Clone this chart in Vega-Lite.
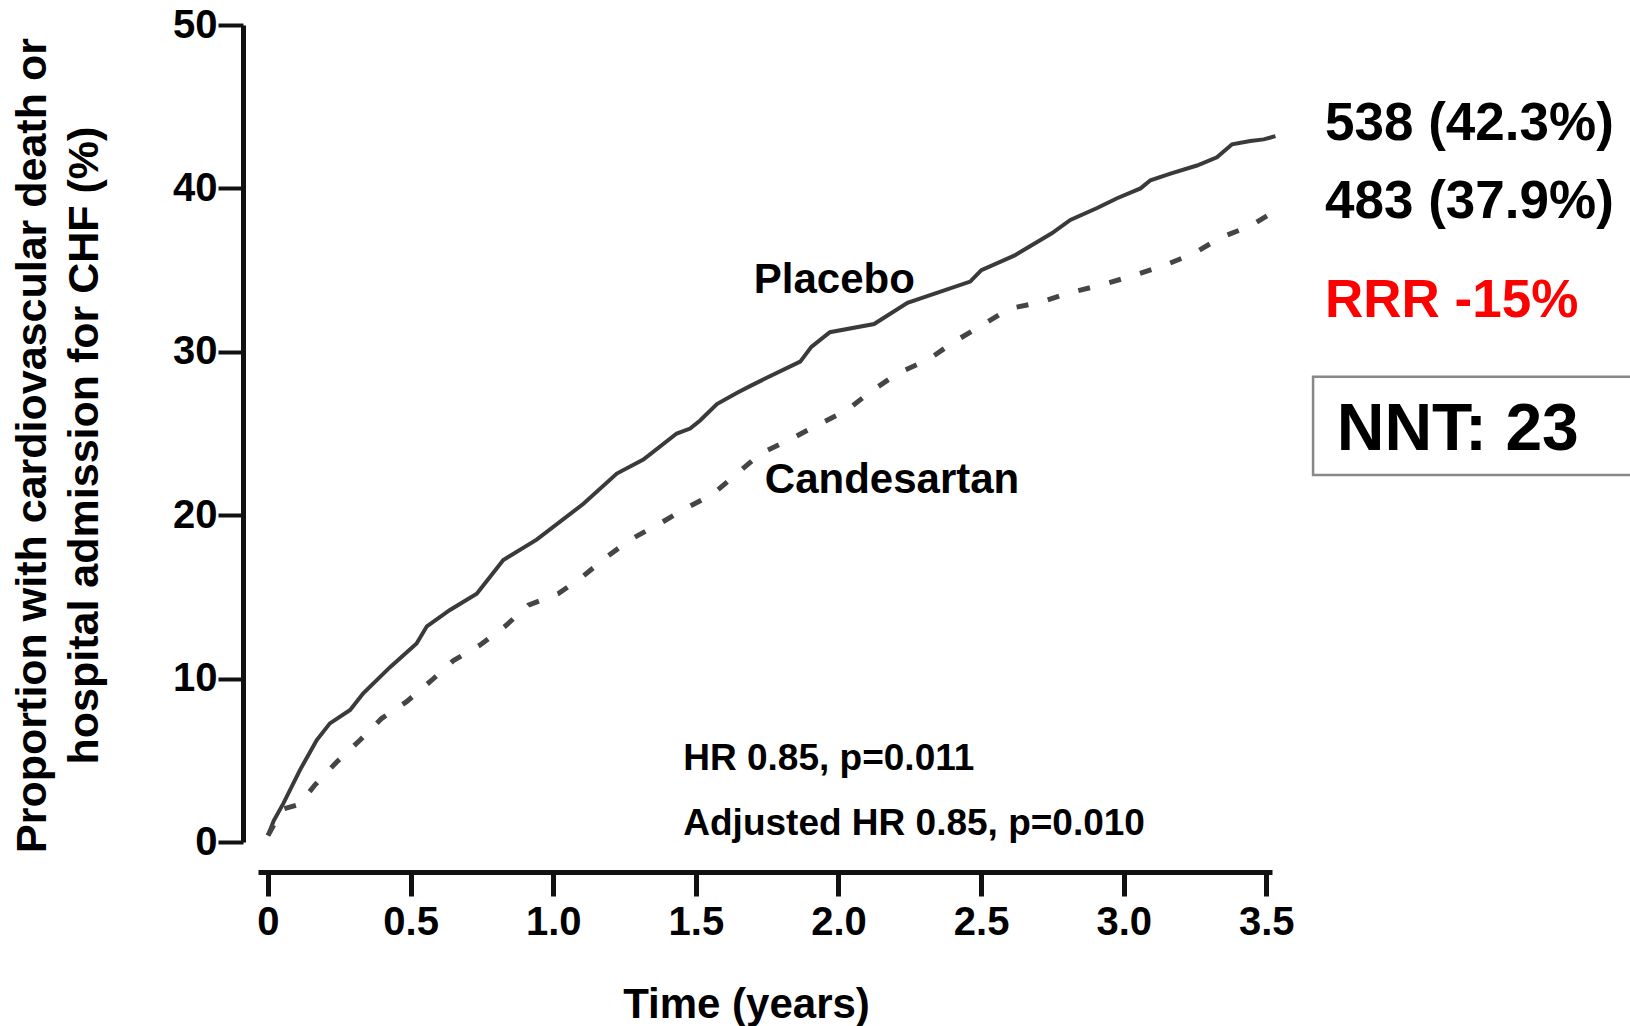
{
  "$schema": "https://vega.github.io/schema/vega-lite/v6.json",
  "width": 1014,
  "height": 817,
  "autosize": {"type": "none"},
  "padding": {"left": 258, "top": 25, "right": 358, "bottom": 184},
  "background": "white",
  "config": {"view": {"stroke": null}, "font": "Liberation Sans"},
  "datasets": {
    "curves": [
      {"arm": "Placebo", "t": 0, "v": 0.4},
      {"arm": "Placebo", "t": 0.02, "v": 1.3},
      {"arm": "Placebo", "t": 0.054, "v": 2.36},
      {"arm": "Placebo", "t": 0.112, "v": 4.4},
      {"arm": "Placebo", "t": 0.171, "v": 6.24},
      {"arm": "Placebo", "t": 0.217, "v": 7.26},
      {"arm": "Placebo", "t": 0.288, "v": 8.08},
      {"arm": "Placebo", "t": 0.334, "v": 9.1},
      {"arm": "Placebo", "t": 0.428, "v": 10.7},
      {"arm": "Placebo", "t": 0.521, "v": 12.15},
      {"arm": "Placebo", "t": 0.557, "v": 13.2},
      {"arm": "Placebo", "t": 0.638, "v": 14.2},
      {"arm": "Placebo", "t": 0.732, "v": 15.2},
      {"arm": "Placebo", "t": 0.825, "v": 17.26},
      {"arm": "Placebo", "t": 0.942, "v": 18.5},
      {"arm": "Placebo", "t": 1.106, "v": 20.7},
      {"arm": "Placebo", "t": 1.223, "v": 22.55},
      {"arm": "Placebo", "t": 1.316, "v": 23.4},
      {"arm": "Placebo", "t": 1.433, "v": 25.0},
      {"arm": "Placebo", "t": 1.48, "v": 25.3},
      {"arm": "Placebo", "t": 1.515, "v": 25.8},
      {"arm": "Placebo", "t": 1.574, "v": 26.8},
      {"arm": "Placebo", "t": 1.645, "v": 27.5},
      {"arm": "Placebo", "t": 1.69, "v": 27.9},
      {"arm": "Placebo", "t": 1.736, "v": 28.3},
      {"arm": "Placebo", "t": 1.866, "v": 29.4},
      {"arm": "Placebo", "t": 1.905, "v": 30.3},
      {"arm": "Placebo", "t": 1.97, "v": 31.2},
      {"arm": "Placebo", "t": 2.125, "v": 31.7},
      {"arm": "Placebo", "t": 2.242, "v": 33.0},
      {"arm": "Placebo", "t": 2.462, "v": 34.3},
      {"arm": "Placebo", "t": 2.501, "v": 35.0},
      {"arm": "Placebo", "t": 2.618, "v": 35.9},
      {"arm": "Placebo", "t": 2.748, "v": 37.25},
      {"arm": "Placebo", "t": 2.813, "v": 38.07},
      {"arm": "Placebo", "t": 2.907, "v": 38.8},
      {"arm": "Placebo", "t": 2.977, "v": 39.4},
      {"arm": "Placebo", "t": 3.059, "v": 40.0},
      {"arm": "Placebo", "t": 3.094, "v": 40.5},
      {"arm": "Placebo", "t": 3.164, "v": 40.9},
      {"arm": "Placebo", "t": 3.257, "v": 41.4},
      {"arm": "Placebo", "t": 3.327, "v": 41.9},
      {"arm": "Placebo", "t": 3.38, "v": 42.7},
      {"arm": "Placebo", "t": 3.444, "v": 42.9},
      {"arm": "Placebo", "t": 3.491, "v": 43.0},
      {"arm": "Placebo", "t": 3.532, "v": 43.2},
      {"arm": "Candesartan", "t": 0, "v": 0.4},
      {"arm": "Candesartan", "t": 0.05, "v": 2.0},
      {"arm": "Candesartan", "t": 0.11, "v": 2.3},
      {"arm": "Candesartan", "t": 0.165, "v": 3.5},
      {"arm": "Candesartan", "t": 0.241, "v": 4.9},
      {"arm": "Candesartan", "t": 0.323, "v": 6.24},
      {"arm": "Candesartan", "t": 0.399, "v": 7.57},
      {"arm": "Candesartan", "t": 0.486, "v": 8.59},
      {"arm": "Candesartan", "t": 0.574, "v": 9.9},
      {"arm": "Candesartan", "t": 0.65, "v": 11.1},
      {"arm": "Candesartan", "t": 0.744, "v": 12.06},
      {"arm": "Candesartan", "t": 0.831, "v": 13.2},
      {"arm": "Candesartan", "t": 0.913, "v": 14.5},
      {"arm": "Candesartan", "t": 1.018, "v": 15.2},
      {"arm": "Candesartan", "t": 1.1, "v": 16.2},
      {"arm": "Candesartan", "t": 1.188, "v": 17.46},
      {"arm": "Candesartan", "t": 1.27, "v": 18.5},
      {"arm": "Candesartan", "t": 1.375, "v": 19.5},
      {"arm": "Candesartan", "t": 1.463, "v": 20.4},
      {"arm": "Candesartan", "t": 1.56, "v": 21.3},
      {"arm": "Candesartan", "t": 1.645, "v": 22.55},
      {"arm": "Candesartan", "t": 1.729, "v": 23.8},
      {"arm": "Candesartan", "t": 1.827, "v": 24.6},
      {"arm": "Candesartan", "t": 1.924, "v": 25.5},
      {"arm": "Candesartan", "t": 2.028, "v": 26.4},
      {"arm": "Candesartan", "t": 2.112, "v": 27.55},
      {"arm": "Candesartan", "t": 2.209, "v": 28.7},
      {"arm": "Candesartan", "t": 2.313, "v": 29.5},
      {"arm": "Candesartan", "t": 2.404, "v": 30.6},
      {"arm": "Candesartan", "t": 2.501, "v": 31.6},
      {"arm": "Candesartan", "t": 2.599, "v": 32.65},
      {"arm": "Candesartan", "t": 2.703, "v": 33.0},
      {"arm": "Candesartan", "t": 2.807, "v": 33.6},
      {"arm": "Candesartan", "t": 2.924, "v": 34.1},
      {"arm": "Candesartan", "t": 3.033, "v": 34.66},
      {"arm": "Candesartan", "t": 3.14, "v": 35.27},
      {"arm": "Candesartan", "t": 3.243, "v": 36.0},
      {"arm": "Candesartan", "t": 3.342, "v": 37.0},
      {"arm": "Candesartan", "t": 3.444, "v": 37.7},
      {"arm": "Candesartan", "t": 3.528, "v": 38.6}
    ]
  },
  "encoding": {
    "x": {
      "field": "t",
      "type": "quantitative",
      "scale": {"domain": [-0.035, 3.52], "nice": false, "zero": false},
      "axis": {
        "title": "Time (years)",
        "values": [0, 0.5, 1, 1.5, 2, 2.5, 3, 3.5],
        "labelExpr": "datum.value == 0 ? '0' : format(datum.value, '.1f')",
        "offset": 30,
        "grid": false,
        "domainColor": "#111111",
        "domainWidth": 5,
        "tickColor": "#111111",
        "tickWidth": 5,
        "tickSize": 24,
        "labelFont": "Liberation Sans",
        "labelFontSize": 40,
        "labelFontWeight": "bold",
        "labelColor": "black",
        "labelPadding": 6,
        "labelFlush": false,
        "labelOverlap": false,
        "titleFont": "Liberation Sans",
        "titleFontSize": 42,
        "titleFontWeight": "bold",
        "titleColor": "black",
        "titleX": 488,
        "titleY": 145,
        "titleAlign": "center",
        "titleBaseline": "alphabetic"
      }
    },
    "y": {
      "field": "v",
      "type": "quantitative",
      "scale": {"domain": [0, 50], "nice": false},
      "axis": {
        "title": ["Proportion with cardiovascular death or", "hospital admission for CHF (%)"],
        "values": [0, 10, 20, 30, 40, 50],
        "offset": 15,
        "grid": false,
        "domainColor": "#111111",
        "domainWidth": 5,
        "tickColor": "#111111",
        "tickWidth": 4,
        "tickSize": 25,
        "labelFont": "Liberation Sans",
        "labelFontSize": 40,
        "labelFontWeight": "bold",
        "labelColor": "black",
        "labelPadding": 1,
        "labelFlush": false,
        "labelOverlap": false,
        "titleFont": "Liberation Sans",
        "titleFontSize": 43,
        "titleFontWeight": "bold",
        "titleColor": "black",
        "titleAngle": -90,
        "titleX": -198,
        "titleY": 420,
        "titleAlign": "center",
        "titleBaseline": "alphabetic",
        "titleLineHeight": 52
      }
    }
  },
  "layer": [
    {
      "data": {"name": "curves"},
      "transform": [{"filter": "datum.arm == 'Placebo'"}],
      "mark": {"type": "line", "color": "#3a3a3a", "strokeWidth": 4, "clip": false}
    },
    {
      "data": {"name": "curves"},
      "transform": [{"filter": "datum.arm == 'Candesartan'"}],
      "mark": {"type": "line", "color": "#454545", "strokeWidth": 5, "strokeDash": [12, 20], "clip": false}
    },
    {
      "data": {"values": [
        {"label": "Placebo", "t": 1.703, "v": 33.58},
        {"label": "Candesartan", "t": 1.742, "v": 21.34}
      ]},
      "mark": {"type": "text", "align": "left", "baseline": "alphabetic", "font": "Liberation Sans", "fontSize": 42, "fontWeight": "bold", "color": "black"},
      "encoding": {"text": {"field": "label"}}
    },
    {
      "data": {"values": [
        {"label": "HR 0.85, p=0.011", "t": 1.456, "v": 4.41},
        {"label": "Adjusted HR 0.85, p=0.010", "t": 1.456, "v": 0.43}
      ]},
      "mark": {"type": "text", "align": "left", "baseline": "alphabetic", "font": "Liberation Sans", "fontSize": 37, "fontWeight": "bold", "color": "black"},
      "encoding": {"text": {"field": "label"}}
    },
    {
      "data": {"values": [
        {"label": "538 (42.3%)", "t": 3.706, "v": 42.96},
        {"label": "483 (37.9%)", "t": 3.706, "v": 38.17}
      ]},
      "mark": {"type": "text", "align": "left", "baseline": "alphabetic", "font": "Liberation Sans", "fontSize": 53, "fontWeight": "bold", "color": "black"},
      "encoding": {"text": {"field": "label"}}
    },
    {
      "data": {"values": [
        {"label": "RRR -15%", "t": 3.706, "v": 32.1}
      ]},
      "mark": {"type": "text", "align": "left", "baseline": "alphabetic", "font": "Liberation Sans", "fontSize": 53, "fontWeight": "bold", "color": "#ff0000"},
      "encoding": {"text": {"field": "label"}}
    },
    {
      "data": {"values": [
        {"t": 3.664, "t2": 4.9, "v": 28.48, "v2": 22.46}
      ]},
      "mark": {"type": "rect", "fill": "white", "fillOpacity": 0, "stroke": "#888888", "strokeWidth": 2.5, "clip": false},
      "encoding": {"x2": {"field": "t2"}, "y2": {"field": "v2"}}
    },
    {
      "data": {"values": [
        {"label": "NNT: 23", "t": 3.747, "v": 23.99}
      ]},
      "mark": {"type": "text", "align": "left", "baseline": "alphabetic", "font": "Liberation Sans", "fontSize": 66, "fontWeight": "bold", "color": "black"},
      "encoding": {"text": {"field": "label"}}
    }
  ]
}
